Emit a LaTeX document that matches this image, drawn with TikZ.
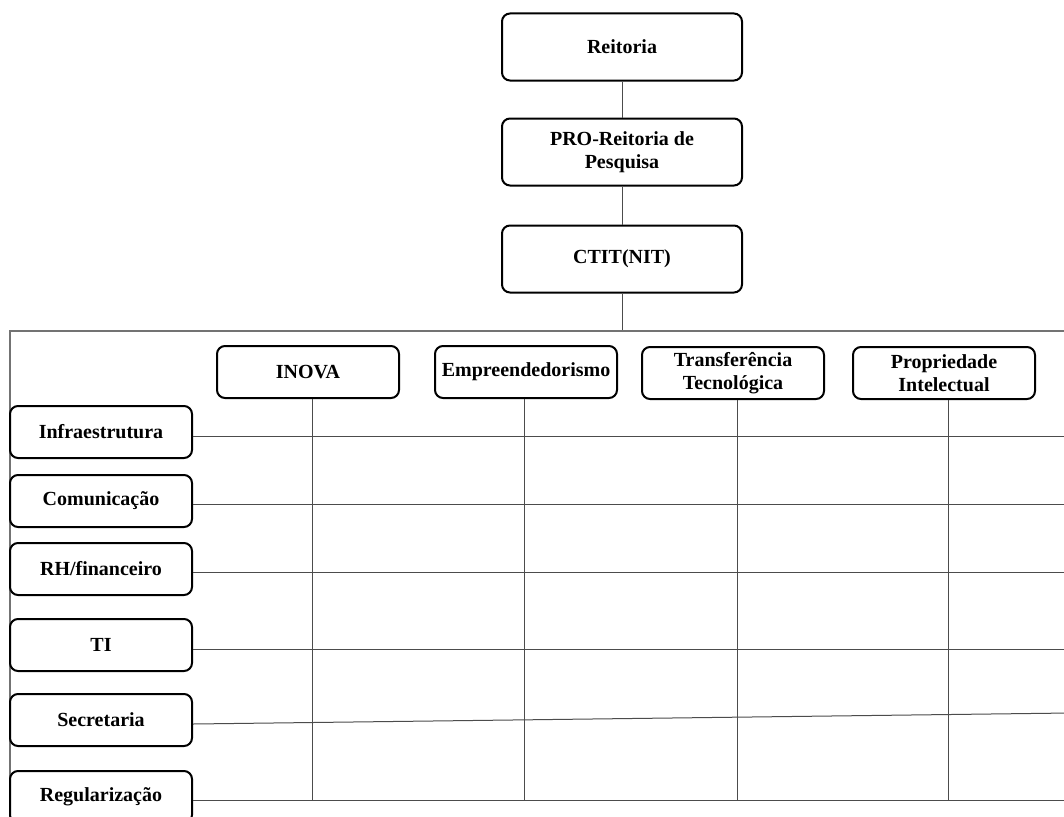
\documentclass[tikz,border=0pt]{standalone}
\usepackage{fontspec}
\setmainfont{Liberation Serif}
\usepackage{tikz}

\begin{document}
\begin{tikzpicture}[x=1pt,y=-1pt,
		box/.style={draw, rounded corners=8pt, line width=2pt, align=center, inner sep=2pt,
			font=\fontsize{20}{23}\selectfont\bfseries},
		topbox/.style={box, minimum width=240pt, minimum height=67pt},
		colbox/.style={box, minimum width=182pt, minimum height=52pt},
		rowbox/.style={box, minimum width=182pt, minimum height=52pt},
		link/.style={draw=black!70, line width=1pt}]
		\clip (0,0) rectangle (1064,816);
		\fill[white] (0,0) rectangle (1064,816);
		% chefia
		\node[topbox] at (622,47)  (reit){Reitoria};
		\node[topbox] at (622,152) (prop){PRO-Reitoria de\\Pesquisa};
		\node[topbox] at (622,259) (ctit){CTIT(NIT)};
		\coordinate (frametop) at (622,331);
		\coordinate (rightedge) at (1070,0);
		\coordinate (bottomline) at (0,800);
		\draw[link] (reit.south) -- (prop.north);
		\draw[link] (prop.south) -- (ctit.north);
		\draw[link] (ctit.south) -- (frametop);
		\draw[draw=black!55, line width=1.3pt] (1070,331) -- (10,331) -- (10,830);
		% colunas
		\node[colbox] at (308,372) (inova){INOVA};
		\node[colbox] at (526,372) (empr){Empreendedorismo};
		\node[colbox] at (733,373) (transf){Transferência\\Tecnológica};
		\node[colbox] at (944,373) (pi){Propriedade\\Intelectual};
		% linhas
		\node[rowbox] at (101,432) (infra){Infraestrutura};
		\node[rowbox] at (101,501) (comun){Comunicação};
		\node[rowbox] at (101,569) (rh){RH/financeiro};
		\node[rowbox] at (101,645) (ti){TI};
		\node[rowbox] at (101,720) (secr){Secretaria};
		\node[rowbox] at (101,797) (regul){Regularização};
		\draw[link] ([yshift=-4pt]infra.east) -- ([yshift=-4pt]infra.east -| rightedge);
		\draw[link] ([yshift=-3pt]comun.east) -- ([yshift=-3pt]comun.east -| rightedge);
		\draw[link] ([yshift=-3pt]rh.east) -- ([yshift=-3pt]rh.east -| rightedge);
		\draw[link] ([yshift=-4pt]ti.east) -- ([yshift=-4pt]ti.east -| rightedge);
		\draw[link] ([yshift=-4pt]secr.east) -- (1070,713);
		\draw[link] ([yshift=-3pt]regul.east) -- ([yshift=-3pt]regul.east -| rightedge);
		\draw[link] ([xshift=4pt]inova.south) -- ([xshift=4pt]inova.south |- bottomline);
		\draw[link] ([xshift=-2pt]empr.south) -- ([xshift=-2pt]empr.south |- bottomline);
		\draw[link] ([xshift=4pt]transf.south) -- ([xshift=4pt]transf.south |- bottomline);
		\draw[link] ([xshift=4pt]pi.south) -- ([xshift=4pt]pi.south |- bottomline);
	\end{tikzpicture}
\end{document}
